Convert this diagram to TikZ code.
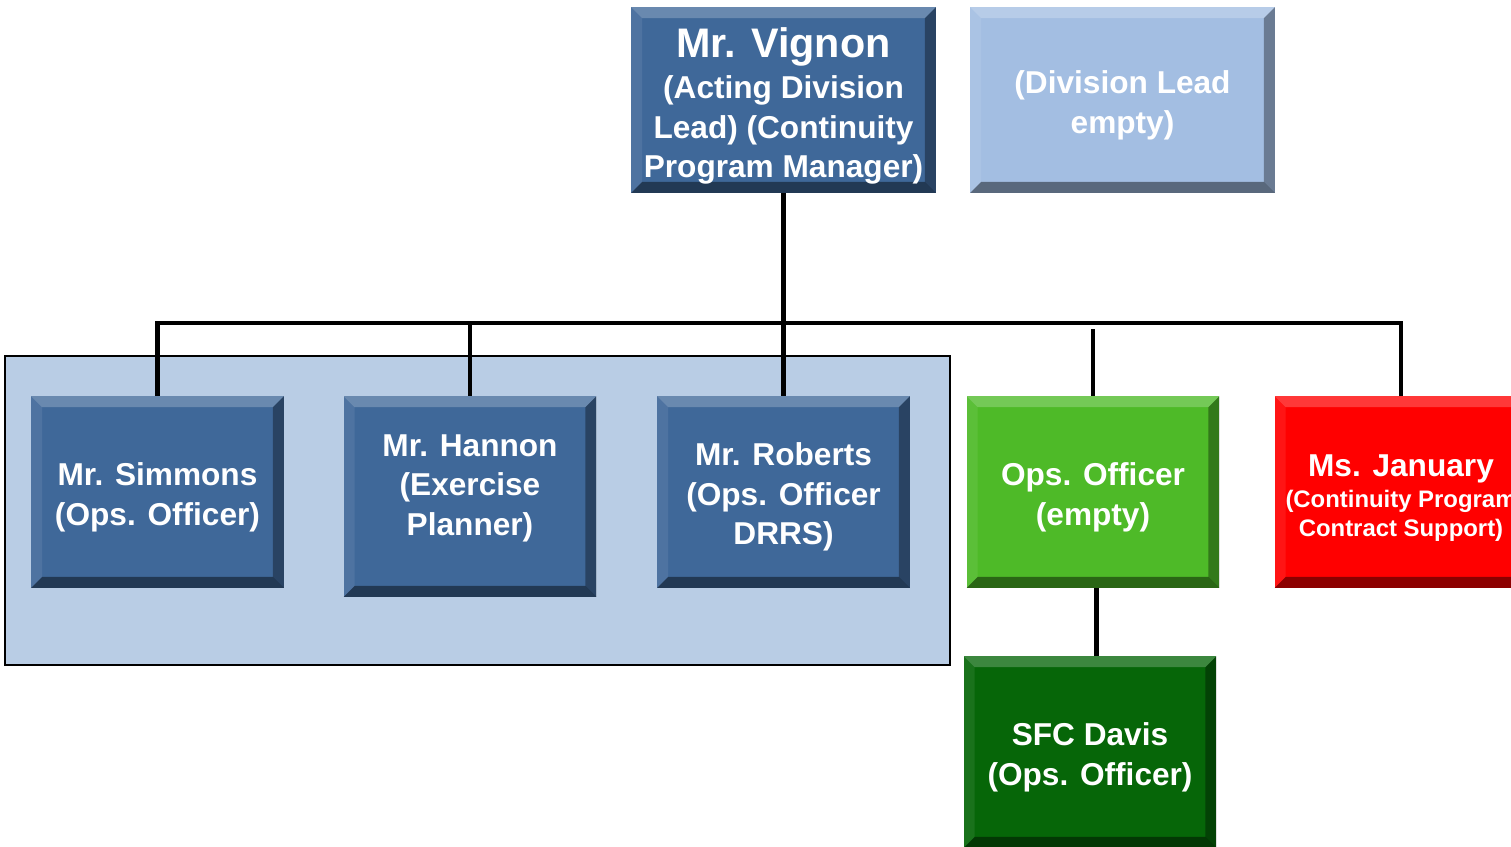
\documentclass[tikz,border=0pt]{standalone}
\usepackage{fontspec}
\setmainfont{Liberation Sans}
\usetikzlibrary{
  calc,
  positioning,
}
\definecolor{vblue}{RGB}{63,104,153}
\definecolor{leadblue}{RGB}{163,190,226}
\definecolor{panelblue}{RGB}{185,205,229}
\definecolor{opsgreen}{RGB}{78,186,40}
\definecolor{davisgreen}{RGB}{6,102,8}
\definecolor{janred}{RGB}{255,0,0}
\newlength{\bevelw}
\setlength{\bevelw}{6.3pt}
% strut that pushes a node's text down
\newcommand{\tdrop}[1][19pt]{\rule{0pt}{#1}}
\tikzset{
  bevel/.style={
    path picture={
      \coordinate (bnw) at (path picture bounding box.north west);
      \coordinate (bne) at (path picture bounding box.north east);
      \coordinate (bsw) at (path picture bounding box.south west);
      \coordinate (bse) at (path picture bounding box.south east);
      \fill [white, opacity=0.22] (bnw) -- (bne) -- ([xshift=-\bevelw, yshift=-\bevelw]bne) -- ([xshift=\bevelw, yshift=-\bevelw]bnw) -- cycle;
      \fill [white, opacity=0.08] (bnw) -- ([xshift=\bevelw, yshift=-\bevelw]bnw) -- ([xshift=\bevelw, yshift=\bevelw]bsw) -- (bsw) -- cycle;
      \fill [black, opacity=0.35] (bne) -- (bse) -- ([xshift=-\bevelw, yshift=\bevelw]bse) -- ([xshift=-\bevelw, yshift=-\bevelw]bne) -- cycle;
      \fill [black, opacity=0.45] (bsw) -- (bse) -- ([xshift=-\bevelw, yshift=\bevelw]bse) -- ([xshift=\bevelw, yshift=\bevelw]bsw) -- cycle;
    }
  },
  person/.style={
    bevel,
    minimum width=5.06cm,
    minimum height=3.84cm,
    inner sep=0pt,
    align=center,
    text=white,
    font=\bfseries\fontsize{18}{22.5}\selectfont,
  },
  % lifts the text inside its box
  lift/.style={execute at end node={\rule[-#1]{0pt}{0pt}}},
  conn/.style={line width=2.8pt, line join=miter},
}

\begin{document}
\begin{tikzpicture}[x=0.02cm, y=-0.02cm]
  \useasboundingbox (0, 0) rectangle (1511, 846);
  \clip (0, 0) rectangle (1511, 846);

  \draw [fill=panelblue, line width=0.9pt] (5, 356) rectangle (950, 665);

  \node [person, fill=vblue, minimum width=6.1cm, minimum height=3.72cm] (vignon) at (783.5, 100)
    {{\fontsize{23.5}{28}\selectfont\tdrop[24pt]Mr. Vignon}\\[1pt] (Acting Division\\ Lead) (Continuity\\ Program Manager)};
  \node [person, fill=leadblue, minimum width=6.1cm, minimum height=3.72cm] (divlead) at (1122.5, 100)
    {\tdrop(Division Lead\\ empty)};

  \node [person, fill=vblue] (simmons) at (157.5, 492) {\tdrop Mr. Simmons\\ (Ops. Officer)};
  \node [person, fill=vblue, minimum height=4.02cm, lift=13pt] (hannon) at (470, 496.5) {Mr. Hannon\\ (Exercise\\ Planner)};
  \node [person, fill=vblue] (roberts) at (783.5, 492) {\tdrop Mr. Roberts\\ (Ops. Officer\\ DRRS)};
  \node [person, fill=opsgreen] (opsoff) at (1093, 492) {\tdrop Ops. Officer\\ (empty)};
  \node [person, fill=janred, font=\bfseries\fontsize{13.6}{16.5}\selectfont] (january) at (1401, 492)
    {{\fontsize{18}{22}\selectfont\tdrop Ms. January}\\[1pt] (Continuity Program\\ Contract Support)};
  \node [person, fill=davisgreen] (davis) at (1090, 752) {\tdrop SFC Davis\\ (Ops. Officer)};

  \coordinate (bar) at (783.5, 323);
  \draw [conn] (vignon.south) -- (roberts.north);
  \draw [conn] (simmons.north) -- (simmons.north |- bar) -- (january.north |- bar) -- (january.north);
  \draw [conn] (hannon.north) -- (hannon.north |- bar);
  \draw [conn] (opsoff.north) -- ($(opsoff.north |- bar) + (0, 6)$);
  \draw [conn] ([xshift=2pt]opsoff.south) -- ([xshift=2pt]opsoff.south |- davis.north);
\end{tikzpicture}
\end{document}
